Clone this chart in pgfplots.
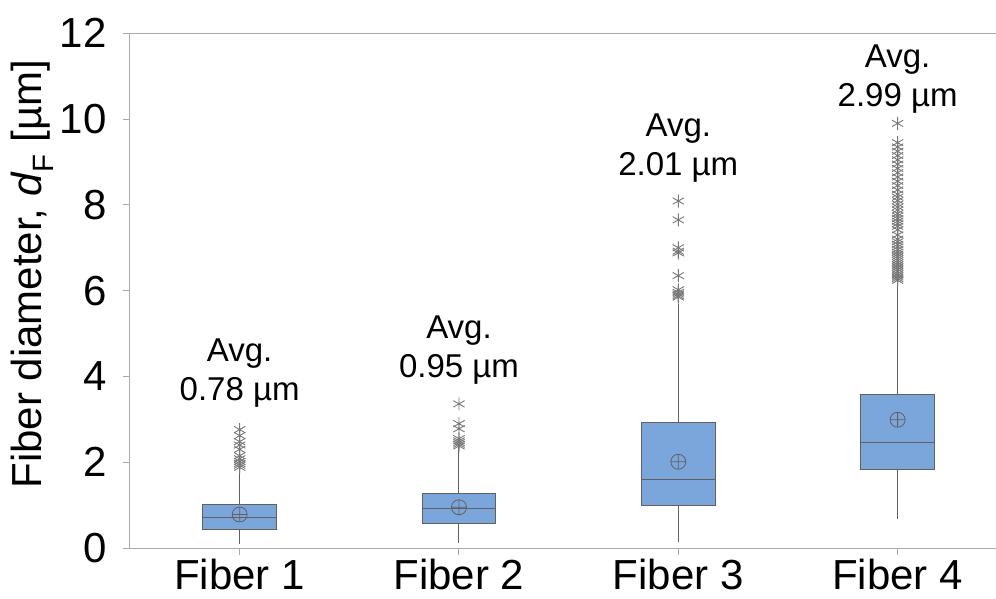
\documentclass[border=0pt]{standalone}
\usepackage{fontspec}
\setmainfont{Liberation Sans}
\usepackage{pgfplots}
\pgfplotsset{compat=1.18}
\usepgfplotslibrary{statistics}
\usetikzlibrary{plotmarks}

\definecolor{boxblue}{RGB}{123,166,219}
\definecolor{boxedge}{RGB}{96,96,96}
\definecolor{axisgray}{RGB}{170,170,170}
\definecolor{outgray}{RGB}{120,120,120}

\pgfplotsset{
  fiberbox/.style={
    boxplot prepared={#1, box extend=0.337, whisker extend=0, draw direction=y},
    boxplot/every box/.style={fill=boxblue, draw=boxedge, line width=1pt},
    boxplot/every median/.style={draw=boxedge, line width=1pt},
    boxplot/every whisker/.style={draw=boxedge, line width=1pt},
  },
  outl/.style={only marks, mark=asterisk, mark size=6.5pt, draw=outgray, line width=0.9pt},
}

\begin{document}
\begin{tikzpicture}
\useasboundingbox (-130pt,-50pt) rectangle (866pt,548pt);
\begin{axis}[
  scale only axis, width=877.3pt, height=514.7pt,
  xmin=0.5, xmax=4.5, ymin=0, ymax=12,
  xtick={1,2,3,4}, xticklabels={Fiber 1, Fiber 2, Fiber 3, Fiber 4},
  ytick={0,2,...,12},
  axis line style={draw=axisgray, line width=1pt},
  every tick/.style={draw=axisgray, line width=1pt},
  tick align=outside, tick pos=left,
  major tick length=7pt,
  tick label style={font=\fontsize{42}{44}\selectfont},
  yticklabel style={xshift=-13pt},
  xticklabel style={inner sep=0pt, anchor=north, yshift=-4pt},
  /pgf/number format/assume math mode=true,
  ylabel={Fiber diameter, \textit{d}\textsubscript{F} [µm]},
  ylabel style={font=\fontsize{42}{46}\selectfont,
    at={(axis description cs:-0.1117,0.532)}, anchor=center},
  clip=false,
]
% boxes: quartiles, medians and whisker ends
\addplot[fiberbox={draw position=1, lower whisker=0.10, lower quartile=0.44,
  median=0.70, upper quartile=1.02, upper whisker=1.85}] coordinates {};
\addplot[fiberbox={draw position=2, lower whisker=0.11, lower quartile=0.58,
  median=0.92, upper quartile=1.27, upper whisker=2.37}] coordinates {};
\addplot[fiberbox={draw position=3, lower whisker=0.13, lower quartile=0.99,
  median=1.60, upper quartile=2.92, upper whisker=5.68}] coordinates {};
\addplot[fiberbox={draw position=4, lower whisker=0.67, lower quartile=1.82,
  median=2.47, upper quartile=3.57, upper whisker=6.20}] coordinates {};

% outliers
\addplot[outl] coordinates {(1,2.76)(1,2.62)(1,2.48)(1,2.40)(1,2.30)(1,2.15)
  (1,2.08)(1,2.02)(1,1.97)(1,1.93)(1,1.88)};
\addplot[outl] coordinates {(2,3.36)(2,2.90)(2,2.78)(2,2.55)(2,2.50)(2,2.46)
  (2,2.42)(2,2.38)};
\addplot[outl] coordinates {(3,8.09)(3,7.65)(3,7.00)(3,6.92)(3,6.88)(3,6.35)
  (3,6.02)(3,5.96)(3,5.92)(3,5.88)(3,5.85)};
\addplot[outl] coordinates {(4,9.90)(4,9.45)(4,9.35)(4,9.25)(4,9.15)(4,9.05)
  (4,8.95)(4,8.85)(4,8.75)(4,8.65)(4,8.55)(4,8.45)(4,8.35)(4,8.25)(4,8.18)
  (4,8.10)(4,8.02)(4,7.95)(4,7.88)(4,7.80)(4,7.74)(4,7.68)(4,7.62)(4,7.56)
  (4,7.50)(4,7.42)(4,7.30)(4,7.20)(4,7.14)(4,7.08)(4,7.02)(4,6.96)(4,6.90)
  (4,6.85)(4,6.80)(4,6.75)(4,6.70)(4,6.65)(4,6.60)(4,6.55)(4,6.50)(4,6.45)
  (4,6.40)(4,6.36)(4,6.32)(4,6.28)(4,6.24)};

% means
\addplot[only marks, mark=oplus, mark size=7.5pt, draw=boxedge, line width=0.8pt]
  coordinates {(1,0.78)(2,0.95)(3,2.01)(4,2.99)};

\node[align=center, font=\fontsize{33}{39}\selectfont] at (axis cs:1,4.09) {Avg.\\0.78 µm};
\node[align=center, font=\fontsize{33}{39}\selectfont] at (axis cs:2,4.62) {Avg.\\0.95 µm};
\node[align=center, font=\fontsize{33}{39}\selectfont] at (axis cs:3,9.32) {Avg.\\2.01 µm};
\node[align=center, font=\fontsize{33}{39}\selectfont] at (axis cs:4,10.93) {Avg.\\2.99 µm};
\end{axis}
\end{tikzpicture}
\end{document}
